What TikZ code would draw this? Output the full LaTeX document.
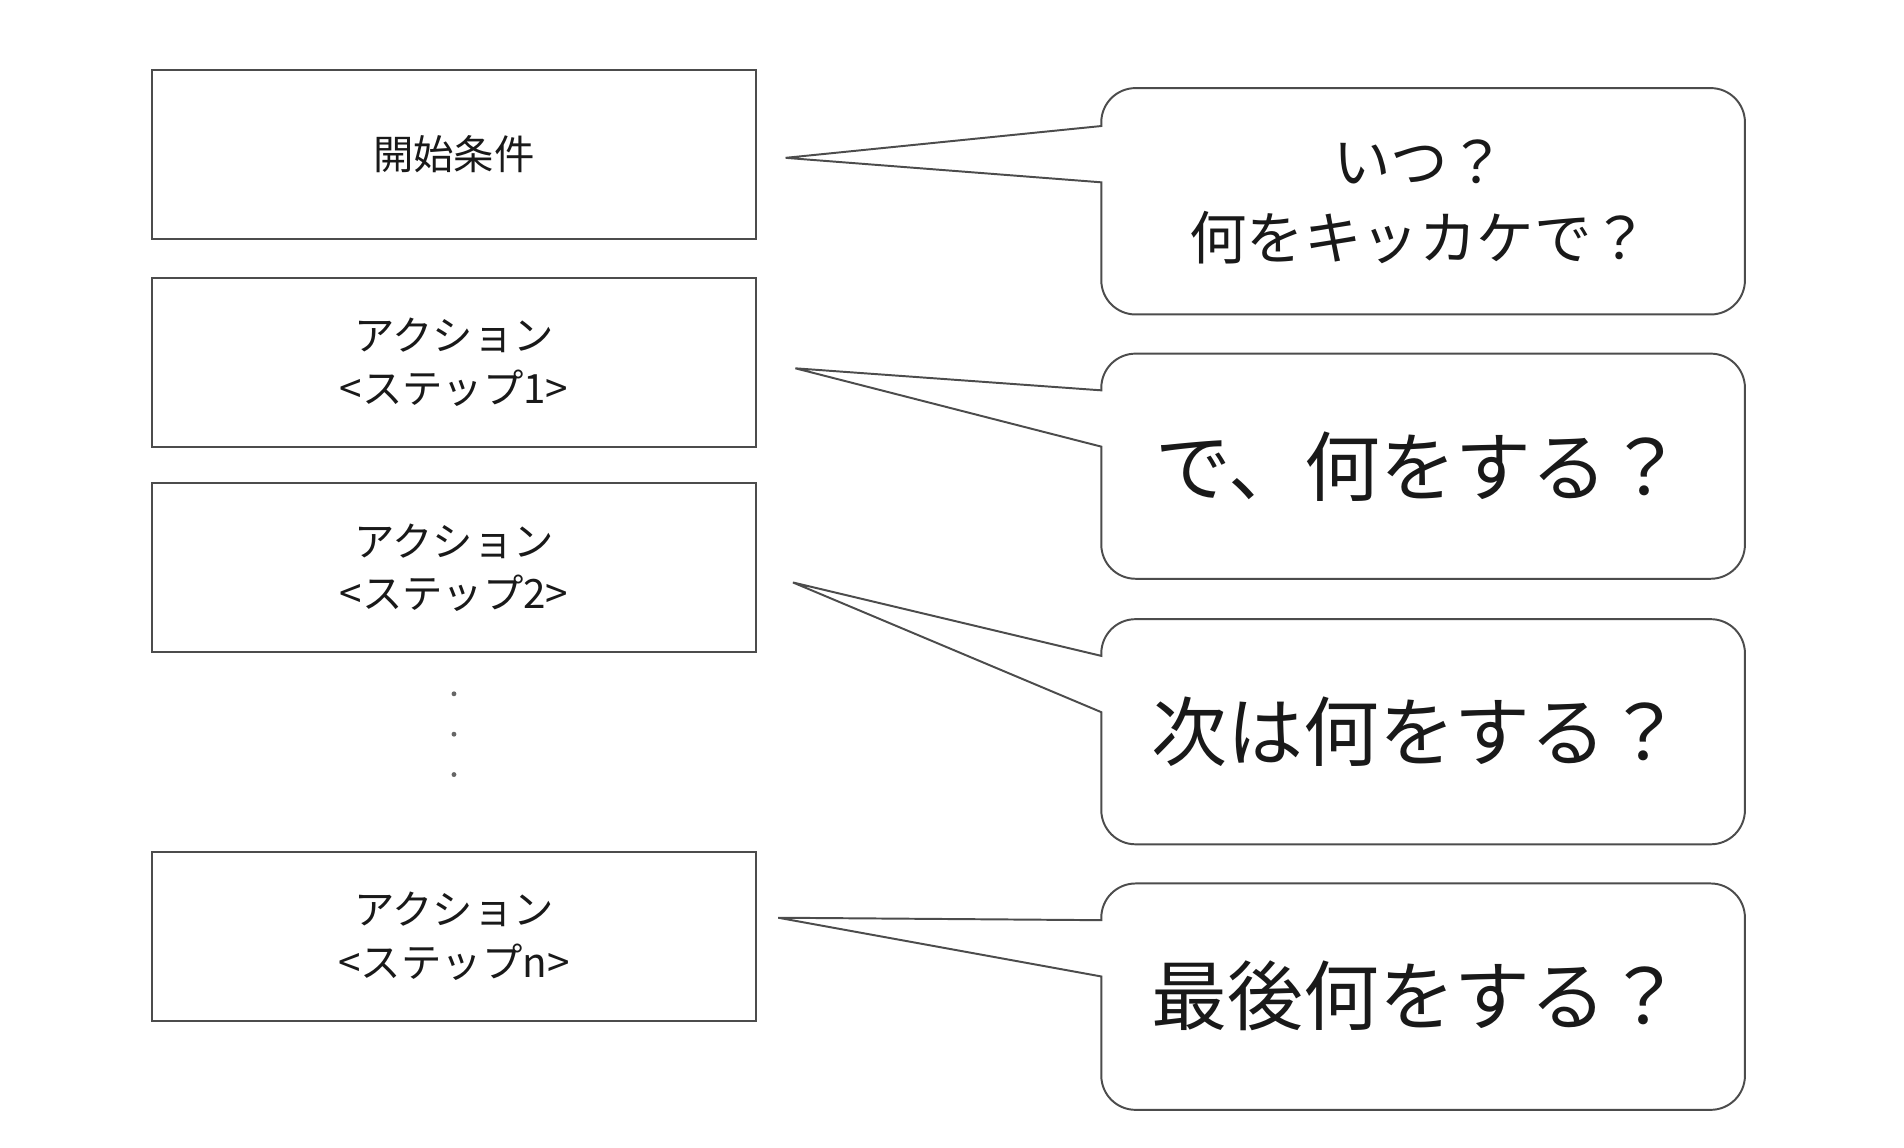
\documentclass[tikz,border=0pt]{standalone}
\usepackage{fontspec}
\setmainfont{Noto Sans CJK JP}
\begin{document}
\begin{tikzpicture}[x=1pt,y=1pt,
  box/.style={draw=black!70,line width=1.6pt},
  bub/.style={draw=black!70,line width=1.6pt,fill=white},
  small/.style={font=\fontsize{33}{43}\selectfont,align=center,text=black!90},
  mid/.style={font=\fontsize{47}{62}\selectfont,align=center,text=black!90},
  big/.style={font=\fontsize{62}{70}\selectfont,align=center,text=black!90}]
\useasboundingbox (0,0) rectangle (1556,938);
% left boxes (y up: y' = 938 - y)
\draw[box] (124,881) rectangle (618,743) node[pos=.5,small] (b0) {開始条件};
\draw[box] (124,711) rectangle (618,573) node[pos=.5,small] (b1) {アクション\\<ステップ1>};
\draw[box] (124,543) rectangle (618,405) node[pos=.5,small] (b2) {アクション\\<ステップ2>};
\draw[box] (124,242) rectangle (618,104) node[pos=.5,small] (bn) {アクション\\<ステップn>};
\foreach \y in {371,338,305} \fill[black!60] (371,\y) circle (2);
% callouts
\def\r{28}
\newcommand\callout[6]{% top bottom y1 y2 tipx tipy
  \draw[bub] (900,#3) -- (900,#1-\r) arc[start angle=180,end angle=90,radius=\r]
   -- (1426-\r,#1) arc[start angle=90,end angle=0,radius=\r]
   -- (1426,#2+\r) arc[start angle=0,end angle=-90,radius=\r]
   -- (900+\r,#2) arc[start angle=270,end angle=180,radius=\r]
   -- (900,#4) -- (#5,#6) -- cycle;}
\callout{866}{681}{835}{789}{642}{809}
\callout{649}{465}{619}{573}{650}{637}
\callout{432}{248}{402}{356}{648}{462}
\callout{216}{31}{186}{140}{636}{188}
\node[mid] (c1) at (1160,773) {いつ？\\何をキッカケで？};
\node[big] (c2) at (1160,557) {で、何をする？};
\node[big] (c3) at (1158,340) {次は何をする？};
\node[big] (c4) at (1158,124) {最後何をする？};
\end{tikzpicture}
\end{document}
